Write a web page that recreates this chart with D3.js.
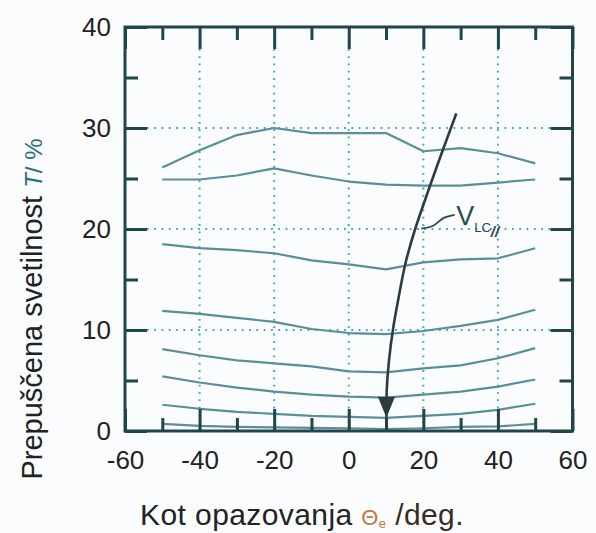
<!DOCTYPE html>
<html>
<head>
<meta charset="utf-8">
<script src="https://cdn.jsdelivr.net/npm/d3@7"></script>
<style>
    body { margin: 0; background: #fbfcfd; }
    svg { display: block; font-family: "Liberation Sans", Arial, sans-serif; }
</style>
</head>
<body>
<script>
// observation angles (deg)
const angles = [-50, -40, -30, -20, -10, 0, 10, 20, 30, 40, 50];

// transmittance T (%) for each applied voltage, top curve first
const curve1 = [26.1, 27.8, 29.3, 30.0, 29.5, 29.5, 29.5, 27.7, 28.0, 27.5, 26.5];
const curve2 = [24.9, 24.9, 25.3, 26.0, 25.3, 24.7, 24.4, 24.3, 24.3, 24.6, 24.9];
const curve3 = [18.5, 18.1, 17.9, 17.6, 16.9, 16.5, 16.0, 16.7, 17.0, 17.1, 18.1];
const curve4 = [11.9, 11.6, 11.2, 10.8, 10.1, 9.7, 9.6, 9.9, 10.4, 11.0, 12.0];
const curve5 = [8.1, 7.5, 7.0, 6.7, 6.4, 5.9, 5.8, 6.2, 6.5, 7.2, 8.2];
const curve6 = [5.4, 4.8, 4.3, 3.9, 3.6, 3.4, 3.3, 3.6, 3.9, 4.4, 5.1];
const curve7 = [2.6, 2.2, 1.9, 1.7, 1.5, 1.4, 1.3, 1.5, 1.7, 2.1, 2.7];
const curve8 = [0.7, 0.5, 0.4, 0.35, 0.3, 0.27, 0.2, 0.27, 0.4, 0.45, 0.7];
const curves = [curve1, curve2, curve3, curve4, curve5, curve6, curve7, curve8];

// axes
const xMajor = [-60, -40, -20, 0, 20, 40, 60];
const xMinor = [-50, -30, -10, 10, 30, 50];
const yMajor = [0, 10, 20, 30, 40];
const yMinor = [5, 15, 25, 35];
const xGrid = [-40, -20, 0, 20, 40];
const yGrid = [10, 20, 30];

// arrow (increasing voltage) and label leader, in data units
const arrowPts = [[28.85, 31.45], [25.2, 27.8], [20.3, 22.7], [17.73, 19.9], [15.31, 16.76],
    [13.25, 12.97], [11.91, 10.17], [10.8, 7.0], [10.14, 3.4], [10.1, 0.3]];
const arrowTip = [10.1, 1.3];
const leaderPts = [[19.5, 20.05], [22.5, 20.3], [25.5, 21.1], [28.4, 21.4]];
const labelPos = [28.8, 20.4];

const W = 596, H = 533;
const pLeft = 125, pRight = 572.5, pTop = 27, pBottom = 431;

const x = d3.scaleLinear().domain([-60, 60]).range([pLeft, pRight]);
const y = d3.scaleLinear().domain([0, 40]).range([pBottom, pTop]);

const svg = d3.select('body').append('svg').attr('width', W).attr('height', H);

const frameColor = '#22454b';
const curveColor = '#5a8e9a';
const gridColor = '#3fa3d4';

// grid
const grid = svg.append('g')
    .attr('stroke', gridColor).attr('stroke-width', 2)
    .attr('stroke-dasharray', '1.8,5.5').attr('fill', 'none');
grid.selectAll('.gx').data(xGrid).join('line').attr('class', 'gx')
    .attr('x1', d => x(d)).attr('x2', d => x(d))
    .attr('y1', pTop).attr('y2', pBottom);
grid.selectAll('.gy').data(yGrid).join('line').attr('class', 'gy')
    .attr('x1', pLeft).attr('x2', pRight)
    .attr('y1', d => y(d)).attr('y2', d => y(d));

// curves
const line = d3.line().x((d, i) => x(angles[i])).y(d => y(d));
svg.append('g').selectAll('path').data(curves).join('path')
    .attr('d', line)
    .attr('fill', 'none').attr('stroke', curveColor).attr('stroke-width', 2.2)
    .attr('stroke-linejoin', 'round');

// ticks, all pointing inward
function ticks(axis, tr) {
    const g = svg.append('g').attr('transform', tr).call(axis);
    g.select('.domain').remove();
    g.selectAll('.tick line').attr('stroke', frameColor).attr('stroke-width', 3);
    return g;
}

const plain = d => String(d);

ticks(d3.axisBottom(x).tickValues(xMajor).tickFormat(plain).tickSize(-22).tickPadding(20), `translate(0,${pBottom})`)
    .selectAll('text').attr('font-size', 26).attr('fill', '#222').attr('font-family', 'Liberation Sans, Arial, sans-serif');
ticks(d3.axisBottom(x).tickValues(xMinor).tickSize(-13).tickFormat(''), `translate(0,${pBottom})`);
ticks(d3.axisTop(x).tickValues(xMajor).tickSize(-22).tickFormat(''), `translate(0,${pTop})`);
ticks(d3.axisTop(x).tickValues(xMinor).tickSize(-13).tickFormat(''), `translate(0,${pTop})`);

ticks(d3.axisLeft(y).tickValues(yMajor).tickFormat(plain).tickSize(-22).tickPadding(14), `translate(${pLeft},0)`)
    .selectAll('text').attr('font-size', 26).attr('fill', '#222').attr('font-family', 'Liberation Sans, Arial, sans-serif');
ticks(d3.axisLeft(y).tickValues(yMinor).tickSize(-13).tickFormat(''), `translate(${pLeft},0)`);
ticks(d3.axisRight(y).tickValues(yMajor).tickSize(-22).tickFormat(''), `translate(${pRight},0)`);
ticks(d3.axisRight(y).tickValues(yMinor).tickSize(-13).tickFormat(''), `translate(${pRight},0)`);

// frame
svg.append('rect')
    .attr('x', pLeft).attr('y', pTop)
    .attr('width', pRight - pLeft).attr('height', pBottom - pTop)
    .attr('fill', 'none').attr('stroke', frameColor).attr('stroke-width', 3);

// arrow
const arrowColor = '#2c3d3f';
svg.append('path')
    .attr('d', d3.line().x(d => x(d[0])).y(d => y(d[1])).curve(d3.curveMonotoneY)(arrowPts))
    .attr('fill', 'none').attr('stroke', arrowColor).attr('stroke-width', 2.6);
const tx = x(arrowTip[0]), ty = y(arrowTip[1]);
const head = d3.path();
head.moveTo(tx, ty);
head.lineTo(tx - 8.5, ty - 21);
head.lineTo(tx + 8.5, ty - 21);
head.closePath();
svg.append('path').attr('d', head).attr('fill', arrowColor);

// label V_LC//
svg.append('path')
    .attr('d', d3.line().x(d => x(d[0])).y(d => y(d[1])).curve(d3.curveCatmullRom)(leaderPts))
    .attr('fill', 'none').attr('stroke', '#2b4a50').attr('stroke-width', 1.8);
const lab = svg.append('text')
    .attr('x', x(labelPos[0])).attr('y', y(labelPos[1]))
    .attr('fill', '#2b4a50');
lab.append('tspan').attr('font-size', 27).text('V');
lab.append('tspan').attr('font-size', 13).attr('dy', 7).text('LC');
lab.append('tspan').attr('font-size', 15).attr('font-style', 'italic').attr('font-weight', 'bold').attr('dy', 5).text('//');

// axis titles
const xt = svg.append('text')
    .attr('x', 302).attr('y', 525).attr('text-anchor', 'middle')
    .attr('font-size', 30).attr('letter-spacing', 0.4).attr('fill', '#222');
xt.append('tspan').text('Kot opazovanja ');
xt.append('tspan').attr('fill', '#c4773d').attr('font-size', 22).text('Θ');
xt.append('tspan').attr('fill', '#c4773d').attr('font-size', 13).attr('dy', 3).text('e');
xt.append('tspan').attr('fill', '#3a2c22').attr('dy', -3).text(' /deg.');

const yt = svg.append('text')
    .attr('transform', 'translate(42,309) rotate(-90)')
    .attr('text-anchor', 'middle')
    .attr('font-size', 29).attr('fill', '#222');
yt.append('tspan').text('Prepuščena svetilnost ');
yt.append('tspan').attr('fill', '#2e6e7c').attr('font-size', 24).attr('font-style', 'italic').text('T');
yt.append('tspan').attr('fill', '#2e6e7c').attr('font-size', 24).text('/ %');
</script>
</body>
</html>
